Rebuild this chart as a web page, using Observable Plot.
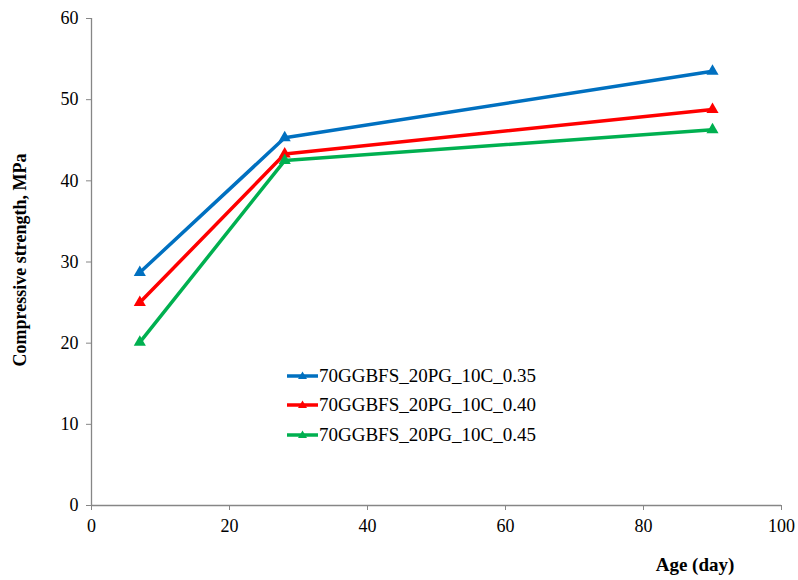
<!DOCTYPE html>
<html>
<head>
<meta charset="utf-8">
<script src="https://cdn.jsdelivr.net/npm/d3@7"></script>
<script src="https://cdn.jsdelivr.net/npm/@observablehq/plot@0.6"></script>
<style>
  html, body { margin: 0; padding: 0; background: #fff; }
  #wrap { position: relative; width: 798px; height: 580px; font-family: "Liberation Serif", "DejaVu Serif", serif; }
  .ttl { position: absolute; font-weight: bold; font-size: 18px; color: #000; white-space: nowrap; }
  #ylab { left: 20px; top: 260px; transform: translate(-50%, -50%) rotate(-90deg); }
  #xlab { left: 695px; top: 565px; transform: translate(-50%, -50%); font-size: 19px; }
  #legend { position: absolute; left: 287px; top: 361px; font-size: 19px; }
  .item { display: flex; align-items: center; height: 29.5px; }
  .item svg { margin-right: 1px; }
</style>
</head>
<body>
<div id="wrap">
  <div id="chart"></div>
  <div class="ttl" id="ylab">Compressive strength, MPa</div>
  <div class="ttl" id="xlab">Age (day)</div>
  <div id="legend"></div>
</div>
<script>
const ages = [7, 28, 90];
const seriesNames = ["70GGBFS_20PG_10C_0.35", "70GGBFS_20PG_10C_0.40", "70GGBFS_20PG_10C_0.45"];
const seriesColors = ["#0070C0", "#FF0000", "#00B050"];
const s035 = [28.7, 45.3, 53.5];
const s040 = [25.0, 43.3, 48.8];
const s045 = [20.1, 42.5, 46.3];
const xTicks = [0, 20, 40, 60, 80, 100];
const yTicks = [0, 10, 20, 30, 40, 50, 60];

const allSeries = [s035, s040, s045];
const data = [];
allSeries.forEach((vals, i) => vals.forEach((v, j) => data.push({age: ages[j], value: v, series: seriesNames[i]})));

const axisGray = "#868686";
const chart = Plot.plot({
  width: 798,
  height: 580,
  marginLeft: 91,
  marginRight: 17,
  marginTop: 18,
  marginBottom: 75,
  style: {fontFamily: "'Liberation Serif', 'DejaVu Serif', serif", fontSize: "18px", color: "#000", background: "#fff"},
  x: {domain: [0, 100]},
  y: {domain: [0, 60]},
  color: {domain: seriesNames, range: seriesColors},
  marks: [
    Plot.ruleX([0], {stroke: axisGray, strokeWidth: 1.3}),
    Plot.ruleY([0], {stroke: axisGray, strokeWidth: 1.3}),
    Plot.axisX({ticks: xTicks, tickSize: 5, tickPadding: 9, stroke: axisGray, label: null, tickFormat: d => d, fill: "#000", fontSize: 18}),
    Plot.axisY({ticks: yTicks, tickSize: 5, tickPadding: 8, stroke: axisGray, label: null, tickFormat: d => d, fill: "#000", fontSize: 18}),
    Plot.line(data, {x: "age", y: "value", z: "series", stroke: "series", strokeWidth: 3.5}),
    Plot.dot(data, {x: "age", y: "value", fill: "series", symbol: "triangle", r: 4.5, stroke: null})
  ]
});
document.getElementById("chart").appendChild(chart);

const legend = document.getElementById("legend");
seriesNames.forEach((name, i) => {
  const item = document.createElement("div");
  item.className = "item";
  item.innerHTML = `<svg width="31" height="12"><line x1="0" y1="6" x2="31" y2="6" stroke="${seriesColors[i]}" stroke-width="3.5"/><path d="M15.5,1.5 L20,9 L11,9 Z" fill="${seriesColors[i]}"/></svg><span>${name}</span>`;
  legend.appendChild(item);
});
</script>
</body>
</html>
